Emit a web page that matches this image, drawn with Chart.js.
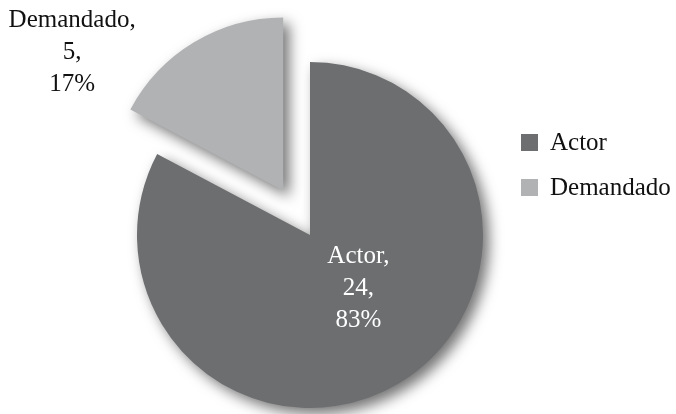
<!DOCTYPE html>
<html>
<head>
<meta charset="utf-8">
<script src="https://cdn.jsdelivr.net/npm/chart.js@4.4.1/dist/chart.umd.min.js"></script>
<style>
html, body { margin: 0; padding: 0; background: #fff; overflow: hidden; }
#wrap { width: 676px; height: 414px; }
</style>
</head>
<body>
<div id="wrap"><canvas id="graficoPartes" width="676" height="414"></canvas></div>
<script>
// datos del gráfico
const categorias = ['Actor', 'Demandado'];
const cantidades = [24, 5];
const colores = ['#6d6e70', '#b1b2b4'];

const fuente = '"Liberation Serif", "DejaVu Serif", serif';

// dibuja cada porción con sombra y separa la que tenga distancia
const separarPorciones = {
    id: 'separarPorciones',
    beforeDatasetDraw(chart, args, opts) {
        const ctx = chart.ctx;
        args.meta.data.forEach(function (arc, i) {
            const dist = opts.distancias[i] || 0;
            const medio = (arc.startAngle + arc.endAngle) / 2;
            ctx.save();
            ctx.translate(Math.cos(medio) * dist, Math.sin(medio) * dist);
            ctx.shadowColor = 'rgba(0, 0, 0, 0.55)';
            ctx.shadowBlur = 14;
            ctx.shadowOffsetX = 6;
            ctx.shadowOffsetY = 6;
            arc.draw(ctx);
            ctx.restore();
        });
        return false;
    }
};

// etiquetas "nombre, valor, %" de cada porción
const etiquetas = {
    id: 'etiquetas',
    afterDatasetsDraw(chart, args, opts) {
        const ctx = chart.ctx;
        const meta = chart.getDatasetMeta(0);
        const datos = chart.data.datasets[0].data;
        const total = datos.reduce((a, b) => a + b, 0);
        const dists = chart.options.plugins.separarPorciones.distancias;
        meta.data.forEach(function (arc, i) {
            const medio = (arc.startAngle + arc.endAngle) / 2;
            const dist = dists[i] || 0;
            const cx = arc.x + Math.cos(medio) * dist;
            const cy = arc.y + Math.sin(medio) * dist;
            const pos = opts.posiciones[i];
            const x = cx + pos[0] * arc.outerRadius;
            const y = cy + pos[1] * arc.outerRadius;
            const lineas = [
                chart.data.labels[i] + ',',
                datos[i] + ',',
                Math.round(datos[i] / total * 100) + '%'
            ];
            ctx.save();
            ctx.font = '25px ' + fuente;
            ctx.fillStyle = opts.colores[i];
            ctx.textAlign = 'center';
            ctx.textBaseline = 'middle';
            lineas.forEach(function (t, j) {
                ctx.fillText(t, x, y + (j - 1) * 32);
            });
            ctx.restore();
        });
    }
};

// leyenda a la derecha
const leyenda = {
    id: 'leyenda',
    afterDraw(chart, args, opts) {
        const ctx = chart.ctx;
        const colors = chart.data.datasets[0].backgroundColor;
        ctx.save();
        ctx.font = '25px ' + fuente;
        ctx.textBaseline = 'middle';
        chart.data.labels.forEach(function (nombre, i) {
            const y = opts.y + i * opts.paso;
            ctx.fillStyle = colors[i];
            ctx.fillRect(opts.x, y - 9, 17, 17);
            ctx.fillStyle = '#111';
            ctx.fillText(nombre, opts.x + 29, y);
        });
        ctx.restore();
    }
};

const ctx = document.getElementById('graficoPartes').getContext('2d');
const graficoPartes = new Chart(ctx, {
    type: 'pie',
    data: {
        labels: categorias,
        datasets: [{
            data: cantidades,
            backgroundColor: colores,
            borderWidth: 0,
            radius: 173
        }]
    },
    options: {
        responsive: false,
        animation: false,
        devicePixelRatio: 1,
        layout: {
            padding: { left: 0, right: 56, top: 56, bottom: 0 }
        },
        plugins: {
            legend: { display: false },
            tooltip: { enabled: false },
            separarPorciones: { distancias: [0, 52] },
            etiquetas: {
                posiciones: [[0.28, 0.31], [-1.22, -0.80]],
                colores: ['#ffffff', '#111111']
            },
            leyenda: { x: 521, y: 143, paso: 45 }
        }
    },
    plugins: [separarPorciones, etiquetas, leyenda]
});
</script>
</body>
</html>
